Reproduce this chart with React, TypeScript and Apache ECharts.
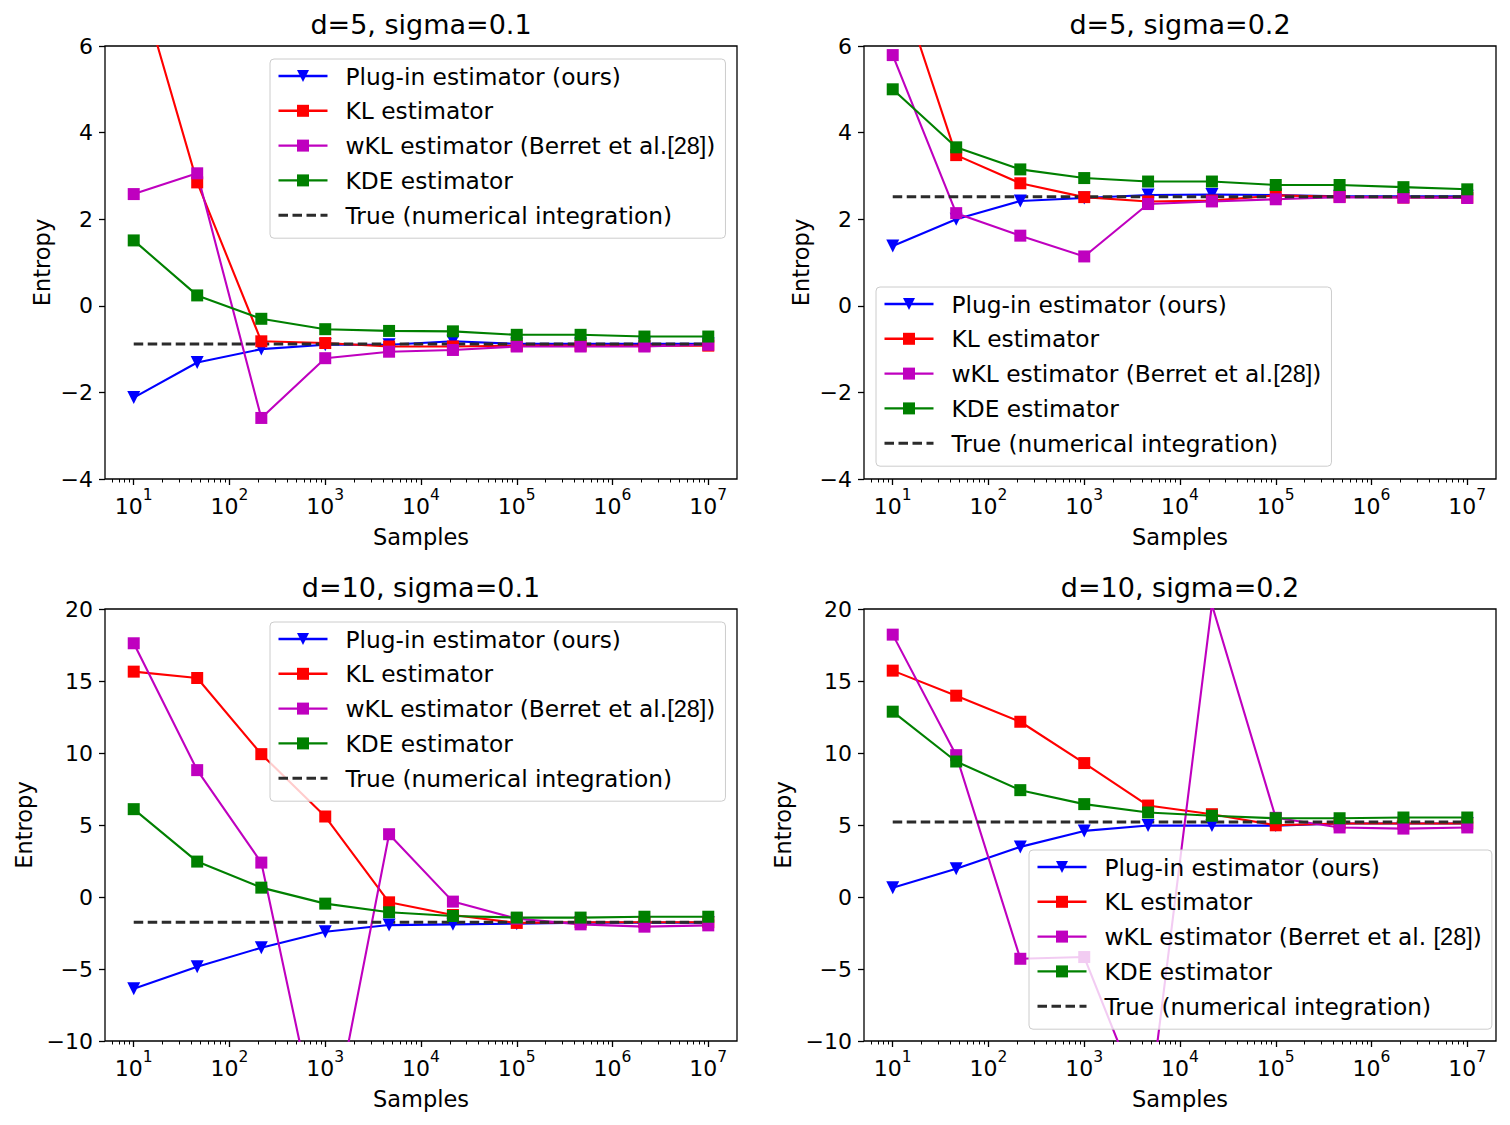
import React, { useEffect, useRef } from 'react';
import * as echarts from 'echarts';

// Sample sizes (log-spaced from 10 to 10^7)
const samples = [10, 46, 215, 1000, 4641, 21544, 100000, 464158, 2154434, 10000000];

const seriesNames = [
  'Plug-in estimator (ours)',
  'KL estimator',
  'wKL estimator (Berret et al. [28])',
  'KDE estimator',
  'True (numerical integration)',
];

const panelTitles = ['d=5, sigma=0.1', 'd=5, sigma=0.2', 'd=10, sigma=0.1', 'd=10, sigma=0.2'];

// d=5, sigma=0.1
const d5s01Plugin = [-2.12, -1.31, -1.0, -0.9, -0.9, -0.82, -0.88, -0.88, -0.88, -0.88];
const d5s01KL = [7.9, 2.85, -0.82, -0.86, -0.94, -0.94, -0.92, -0.92, -0.92, -0.92];
const d5s01WKL = [2.58, 3.06, -2.59, -1.21, -1.06, -1.02, -0.94, -0.94, -0.94, -0.9];
const d5s01KDE = [1.51, 0.24, -0.3, -0.54, -0.58, -0.59, -0.67, -0.67, -0.71, -0.71];
const d5s01True = -0.88;

// d=5, sigma=0.2
const d5s02Plugin = [1.38, 2.0, 2.42, 2.49, 2.56, 2.57, 2.56, 2.53, 2.53, 2.53];
const d5s02KL = [7.9, 3.48, 2.83, 2.51, 2.41, 2.43, 2.55, 2.52, 2.5, 2.5];
const d5s02WKL = [5.79, 2.14, 1.62, 1.14, 2.35, 2.41, 2.46, 2.51, 2.5, 2.49];
const d5s02KDE = [5.0, 3.66, 3.15, 2.95, 2.87, 2.87, 2.79, 2.79, 2.74, 2.69];
const d5s02True = 2.52;

// d=10, sigma=0.1
const d10s01Plugin = [-6.37, -4.84, -3.52, -2.41, -1.95, -1.9, -1.85, -1.78, -1.78, -1.78];
const d10s01KL = [15.65, 15.21, 9.92, 5.59, -0.37, -1.25, -1.8, -1.75, -1.75, -1.75];
const d10s01WKL = [17.62, 8.81, 2.39, -18.4, 4.36, -0.32, -1.5, -1.9, -2.06, -1.97];
const d10s01KDE = [6.1, 2.46, 0.65, -0.46, -1.06, -1.32, -1.43, -1.43, -1.37, -1.37];
const d10s01True = -1.76;

// d=10, sigma=0.2
const d10s02Plugin = [0.65, 1.97, 3.48, 4.59, 4.96, 4.96, 4.96, 5.1, 5.1, 5.1];
const d10s02KL = [15.72, 13.98, 12.17, 9.3, 6.35, 5.75, 4.98, 5.1, 5.1, 5.1];
const d10s02WKL = [18.22, 9.85, -4.29, -4.17, -15.3, 20.3, 5.5, 4.83, 4.75, 4.83];
const d10s02KDE = [12.87, 9.41, 7.42, 6.45, 5.87, 5.64, 5.47, 5.47, 5.52, 5.52];
const d10s02True = 5.2;

const panelSeries = [
  [d5s01Plugin, d5s01KL, d5s01WKL, d5s01KDE, d5s01True],
  [d5s02Plugin, d5s02KL, d5s02WKL, d5s02KDE, d5s02True],
  [d10s01Plugin, d10s01KL, d10s01WKL, d10s01KDE, d10s01True],
  [d10s02Plugin, d10s02KL, d10s02WKL, d10s02KDE, d10s02True],
] as const;

const yMins = [-4, -4, -10, -10];
const yMaxs = [6, 6, 20, 20];
const yIntervals = [2, 2, 5, 5];

// Layout of the four panels
const grids = [
  { left: 105, top: 46, width: 632, height: 433 },
  { left: 864, top: 46, width: 632, height: 433 },
  { left: 105, top: 609, width: 632, height: 432 },
  { left: 864, top: 609, width: 632, height: 432 },
];
const legendPos = [
  { left: 270, top: 59 },
  { left: 876, top: 287 },
  { left: 270, top: 622 },
  { left: 1029, top: 850 },
];
const titleTops = [11, 11, 574, 574];
const yNameGaps = [52, 52, 70, 70];
const refSpace = ['', '', '', ' '];

const FONT = "'DejaVu Sans', 'Noto Sans', sans-serif";
const NARROW = "'Liberation Sans Narrow', 'Liberation Sans', sans-serif";
const colors = ['#0000ff', '#ff0000', '#bf00bf', '#008000', '#2b2b2b'];
const triangleDown = 'path://M0,0L10,0L5,10Z';
const trueDash = [9.5, 4.5];

const LOG_MIN = 0.7;
const LOG_MAX = 7.3;

// "10" with a raised exponent, as rich text
function decadeLabel(v: number): string {
  const e = Math.log10(v);
  const r = Math.round(e);
  if (Math.abs(e - r) > 1e-6) return '';
  return `{b|10}{s|${r}}`;
}

function minusLabel(v: number): string {
  return v < 0 ? '\u2212' + Math.abs(v) : String(v);
}

const majorTicks: number[] = [];
const minorTicks: number[] = [];
for (let k = 0; k <= 7; k++) {
  if (k >= 1) majorTicks.push(k);
  for (let m = 2; m <= 9; m++) {
    const e = k + Math.log10(m);
    if (e > LOG_MIN && e < LOG_MAX) minorTicks.push(e);
  }
}

function buildOption() {
  const title: any[] = [];
  const grid: any[] = [];
  const xAxis: any[] = [];
  const yAxis: any[] = [];
  const legend: any[] = [];
  const series: any[] = [];

  for (let g = 0; g < 4; g++) {
    const gr = grids[g];
    title.push({
      text: panelTitles[g],
      left: gr.left + gr.width / 2,
      top: titleTops[g],
      textAlign: 'center',
      padding: 0,
      textStyle: { fontSize: 27, fontWeight: 'normal', color: '#000', fontFamily: FONT },
    });
    grid.push({
      ...gr,
      show: true,
      borderColor: '#000',
      borderWidth: 1.3,
      backgroundColor: 'transparent',
      containLabel: false,
    });
    // data axis (log scale)
    xAxis.push({
      type: 'log',
      logBase: 10,
      gridIndex: g,
      min: Math.pow(10, LOG_MIN),
      max: Math.pow(10, LOG_MAX),
      axisLine: { show: false },
      axisTick: { show: false },
      minorTick: { show: false },
      splitLine: { show: false },
      axisLabel: {
        margin: 8,
        color: '#000',
        fontSize: 22,
        fontFamily: FONT,
        formatter: (v: number) => decadeLabel(v),
        rich: {
          b: { fontSize: 22, fontFamily: FONT, color: '#000', lineHeight: 30, verticalAlign: 'bottom' },
          s: { fontSize: 15.5, fontFamily: FONT, color: '#000', lineHeight: 30, verticalAlign: 'top' },
        },
      },
      name: 'Samples',
      nameLocation: 'middle',
      nameGap: 46,
      nameTextStyle: { fontSize: 22.5, color: '#000', fontFamily: FONT },
    });
    // major and minor tick marks of the log axis
    xAxis.push({
      type: 'value',
      gridIndex: g,
      position: 'bottom',
      min: LOG_MIN,
      max: LOG_MAX,
      axisLine: { show: false },
      axisLabel: { show: false },
      splitLine: { show: false },
      axisTick: { show: true, customValues: majorTicks, length: 6, lineStyle: { color: '#000', width: 1.3 } },
    });
    xAxis.push({
      type: 'value',
      gridIndex: g,
      position: 'bottom',
      min: LOG_MIN,
      max: LOG_MAX,
      axisLine: { show: false },
      axisLabel: { show: false },
      splitLine: { show: false },
      axisTick: { show: true, customValues: minorTicks, length: 3.5, lineStyle: { color: '#000', width: 1 } },
    });
    yAxis.push({
      type: 'value',
      gridIndex: g,
      min: yMins[g],
      max: yMaxs[g],
      interval: yIntervals[g],
      axisLine: { show: false },
      splitLine: { show: false },
      axisTick: { show: true, length: 6, lineStyle: { color: '#000', width: 1.3 } },
      axisLabel: { margin: 12, color: '#000', fontSize: 22, fontFamily: FONT, formatter: minusLabel },
      name: 'Entropy',
      nameLocation: 'middle',
      nameGap: yNameGaps[g],
      nameTextStyle: { fontSize: 22.5, color: '#000', fontFamily: FONT },
    });

    const sp = refSpace[g];
    legend.push({
      ...legendPos[g],
      z: 20,
      orient: 'vertical',
      selectedMode: false,
      itemWidth: 49,
      itemHeight: 15,
      itemGap: 8.8,
      padding: [4, 10, 10, 7],
      backgroundColor: 'rgba(255,255,255,0.8)',
      borderColor: '#cccccc',
      borderWidth: 1,
      borderRadius: 4,
      data: seriesNames.map((n, i) =>
        i === 4
          ? {
              name: n,
              itemStyle: { color: 'rgba(0,0,0,0)', borderColor: 'rgba(0,0,0,0)', borderWidth: 0 },
              lineStyle: { color: colors[4], width: 3, type: trueDash },
            }
          : { name: n, lineStyle: { width: 2.4 } }
      ),
      formatter: (name: string) =>
        name.startsWith('wKL')
          ? `{t|wKL estimator (Berret et al.${sp}}{r|[28]}{t|)}`
          : `{t|${name}}`,
      textStyle: {
        fontSize: 23.3,
        fontFamily: FONT,
        color: '#000',
        lineHeight: 26,
        padding: [0, 0, 0, 13],
        rich: {
          t: { fontSize: 23.3, fontFamily: FONT, color: '#000', lineHeight: 26 },
          r: { fontSize: 23.5, fontFamily: NARROW, color: '#000', lineHeight: 26 },
        },
      },
    });

    const vals = panelSeries[g];
    for (let s = 0; s < 5; s++) {
      const isTrue = s === 4;
      const v = vals[s] as any;
      const data = samples.map((x, i) => [x, isTrue ? v : v[i]]);
      series.push({
        type: 'line',
        name: seriesNames[s],
        xAxisIndex: g * 3,
        yAxisIndex: g,
        data,
        clip: true,
        z: 2,
        symbol: isTrue ? 'none' : s === 0 ? triangleDown : 'rect',
        symbolSize: s === 0 ? 13 : 12,
        color: colors[s],
        itemStyle: { color: colors[s] },
        lineStyle: isTrue
          ? { color: colors[s], width: 3, type: trueDash }
          : { color: colors[s], width: 2.1 },
        emphasis: { disabled: true },
        silent: true,
      });
    }
  }

  return {
    animation: false,
    backgroundColor: '#ffffff',
    title,
    grid,
    xAxis,
    yAxis,
    legend,
    series,
  };
}

export default function App() {
  const ref = useRef<HTMLDivElement>(null);
  useEffect(() => {
    const chart = echarts.init(ref.current!, null, { renderer: 'svg' });
    chart.setOption(buildOption() as any);
    return () => chart.dispose();
  }, []);
  return (
    <div
      ref={ref}
      style={{ position: 'absolute', left: 0, top: 0, width: 1510, height: 1125, background: '#fff' }}
    />
  );
}
